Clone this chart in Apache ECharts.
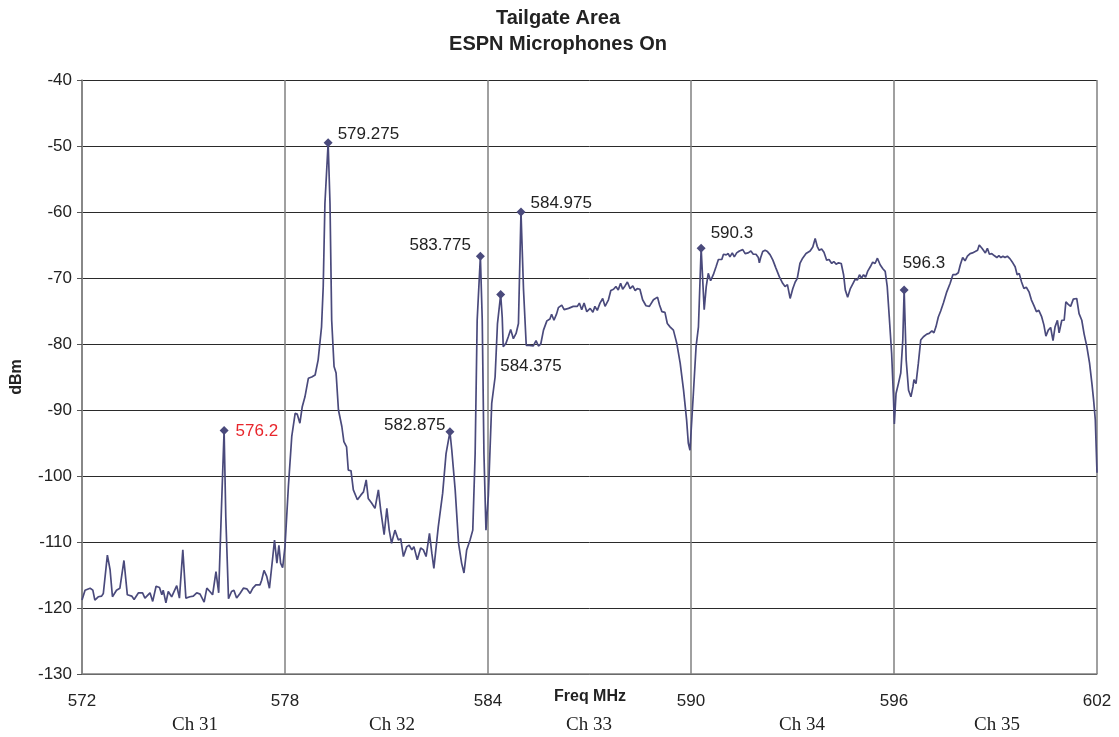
<!DOCTYPE html>
<html>
<head>
<meta charset="utf-8">
<script src="https://cdn.jsdelivr.net/npm/echarts@6/dist/echarts.min.js"></script>
<style>html,body{margin:0;padding:0;background:#fff}#chart{width:1119px;height:737px}</style>
</head>
<body>
<div id="chart"></div>
<script>
// ---- data ----
const freqMHz = [
572.00,572.09,572.24,572.32,572.38,572.48,572.58,572.63,572.75,572.83,572.90,573.02,573.12,573.24,573.34,573.47,573.54,573.67,573.79,573.86,
574.01,574.09,574.19,574.29,574.36,574.40,574.48,574.55,574.65,574.80,574.88,574.98,575.07,575.19,575.29,575.39,575.49,575.61,575.69,575.78,
575.86,575.96,576.04,576.12,576.20,576.25,576.33,576.42,576.49,576.57,576.67,576.77,576.87,576.97,577.05,577.14,577.26,577.31,577.38,577.46,
577.54,577.64,577.69,577.76,577.82,577.87,577.93,578.00,578.10,578.20,578.30,578.36,578.44,578.51,578.59,578.69,578.79,578.89,578.98,579.08,
579.13,579.18,579.275,579.33,579.38,579.45,579.51,579.58,579.68,579.74,579.82,579.87,579.95,580.02,580.14,580.24,580.32,580.40,580.46,580.56,
580.66,580.76,580.83,580.93,581.01,581.08,581.15,581.25,581.35,581.42,581.50,581.60,581.67,581.75,581.81,581.91,582.01,582.09,582.17,582.27,
582.34,582.40,582.53,582.66,582.76,582.875,582.93,583.03,583.13,583.22,583.29,583.37,583.47,583.55,583.62,583.68,583.775,583.83,583.88,583.94,
584.01,584.11,584.21,584.28,584.375,584.42,584.45,584.53,584.60,584.67,584.75,584.83,584.90,584.975,585.05,585.13,585.22,585.34,585.42,585.49,
585.56,585.64,585.74,585.83,585.88,585.95,586.03,586.08,586.18,586.25,586.38,586.52,586.64,586.70,586.77,586.84,586.92,587.02,587.10,587.16,
587.23,587.31,587.39,587.46,587.56,587.63,587.71,587.78,587.85,587.92,587.98,588.05,588.12,588.20,588.28,588.35,588.41,588.49,588.57,588.67,
588.77,588.89,589.01,589.07,589.14,589.23,589.30,589.38,589.48,589.58,589.68,589.78,589.87,589.92,589.97,590.07,590.15,590.22,590.30,590.39,
590.45,590.51,590.58,590.66,590.74,590.81,590.91,590.96,591.04,591.10,591.15,591.22,591.28,591.35,591.43,591.53,591.60,591.69,591.77,591.84,
591.92,591.99,592.02,592.06,592.12,592.19,592.26,592.34,592.42,592.51,592.61,592.71,592.78,592.85,592.93,593.01,593.08,593.14,593.22,593.30,
593.40,593.52,593.60,593.67,593.73,593.79,593.86,593.93,594.01,594.08,594.16,594.22,594.29,594.36,594.44,594.51,594.56,594.63,594.71,594.79,
594.85,594.92,594.98,595.04,595.10,595.16,595.22,595.30,595.37,595.44,595.51,595.59,595.67,595.74,595.80,595.86,595.93,595.98,596.01,596.06,
596.13,596.20,596.26,596.30,596.36,596.43,596.50,596.56,596.59,596.65,596.72,596.79,596.87,596.97,597.04,597.12,597.18,597.24,597.31,597.38,
597.46,597.56,597.66,597.74,597.82,597.90,597.96,598.03,598.10,598.17,598.25,598.32,598.40,598.47,598.52,598.60,598.65,598.70,598.76,598.82,
598.89,598.96,599.04,599.10,599.16,599.22,599.28,599.35,599.43,599.51,599.58,599.64,599.70,599.77,599.84,599.91,599.99,600.06,600.13,600.21,
600.28,600.36,600.43,600.49,600.56,600.63,600.70,600.76,600.83,600.88,600.96,601.03,601.08,601.15,601.22,601.30,601.40,601.47,601.55,601.62,
601.70,601.78,601.85,601.90,601.95,602.00
];
const levelDbm = [
-118.8,-117.3,-117.0,-117.3,-118.8,-118.3,-118.2,-117.8,-112.0,-114.2,-118.3,-117.3,-117.0,-112.8,-118.0,-118.2,-118.7,-117.7,-117.7,-118.5,
-117.7,-119.0,-116.7,-116.9,-118.0,-117.3,-119.2,-117.5,-118.3,-116.6,-118.5,-111.2,-118.5,-118.3,-118.2,-117.7,-117.9,-119.1,-117.0,-117.5,
-118.0,-114.5,-117.7,-105.2,-93.1,-106.2,-118.6,-117.5,-117.3,-118.5,-117.8,-117.0,-117.1,-117.8,-117.0,-116.5,-116.5,-115.8,-114.3,-115.2,
-117.0,-112.2,-109.7,-113.2,-110.5,-113.2,-113.9,-110.7,-101.6,-94.0,-90.5,-90.6,-92.0,-89.5,-88.0,-85.2,-85.0,-84.7,-82.4,-77.4,
-71.3,-58.7,-49.5,-58.7,-76.4,-83.4,-84.4,-90.0,-92.5,-94.8,-95.6,-99.1,-99.2,-102.1,-103.6,-102.9,-102.4,-100.6,-103.4,-104.1,
-104.9,-102.1,-105.2,-108.9,-104.9,-108.2,-110.2,-108.2,-109.7,-109.5,-112.2,-110.7,-110.5,-111.2,-110.7,-112.7,-110.9,-111.2,-112.2,-108.7,
-111.7,-114.0,-107.7,-102.6,-96.6,-93.3,-96.1,-102.1,-110.2,-113.2,-114.7,-111.2,-109.7,-108.2,-96.6,-76.4,-66.7,-76.4,-96.6,-108.2,
-103.0,-89.0,-85.0,-76.9,-72.5,-75.9,-80.4,-79.9,-78.9,-77.8,-79.2,-78.4,-76.9,-60.0,-71.8,-80.2,-80.2,-80.3,-79.5,-80.3,
-80.0,-77.9,-76.5,-76.2,-75.5,-76.4,-75.4,-74.5,-74.1,-74.8,-74.6,-74.3,-74.3,-73.8,-74.8,-73.8,-75.1,-74.6,-75.2,-74.3,
-74.9,-73.8,-73.1,-74.3,-73.3,-71.9,-71.7,-71.3,-71.8,-70.8,-71.7,-71.2,-70.6,-71.6,-71.2,-71.9,-71.6,-71.7,-73.3,-74.2,
-74.3,-73.3,-72.9,-74.1,-75.1,-75.2,-76.9,-77.4,-77.9,-79.9,-82.9,-87.0,-91.5,-95.0,-96.1,-87.5,-80.4,-77.4,-65.5,-74.8,
-71.3,-69.3,-70.4,-69.5,-68.3,-67.2,-67.2,-66.4,-66.5,-66.3,-66.8,-66.2,-66.8,-66.2,-65.9,-65.7,-66.3,-66.2,-65.9,-66.4,
-66.4,-66.9,-67.7,-66.9,-66.0,-65.8,-66.0,-66.5,-67.3,-68.5,-69.8,-70.8,-71.3,-71.0,-73.1,-71.6,-70.6,-70.1,-67.8,-67.0,
-66.3,-65.9,-65.3,-64.0,-65.2,-65.8,-65.6,-66.1,-67.3,-67.2,-67.8,-67.5,-67.9,-67.7,-67.8,-69.5,-71.8,-72.9,-71.6,-70.8,
-70.2,-70.3,-69.5,-70.0,-69.5,-69.9,-69.0,-68.3,-67.6,-67.8,-67.0,-68.0,-68.6,-69.0,-71.3,-75.9,-81.4,-87.5,-92.1,-87.5,
-86.0,-84.4,-79.4,-71.8,-82.4,-87.0,-88.0,-86.5,-85.4,-86.0,-82.9,-79.4,-78.9,-78.5,-78.4,-78.0,-78.3,-77.4,-75.9,-75.0,
-73.8,-72.1,-70.8,-69.5,-69.5,-69.2,-68.0,-66.9,-67.4,-66.7,-66.3,-66.2,-66.0,-65.8,-65.0,-65.5,-65.3,-66.2,-65.5,-66.4,
-66.3,-66.6,-66.9,-66.6,-66.9,-66.7,-66.9,-66.7,-67.1,-67.7,-68.3,-69.5,-69.3,-70.6,-71.6,-71.4,-72.1,-73.3,-74.1,-75.1,
-74.9,-75.8,-77.1,-78.8,-77.9,-77.5,-79.5,-77.4,-76.4,-78.3,-76.4,-76.4,-73.6,-74.0,-74.3,-73.2,-73.1,-75.4,-76.4,-78.5,
-80.4,-82.9,-86.0,-88.5,-91.5,-99.5
];
// marked peaks
const peakFreq = [576.2, 579.275, 583.775, 584.375, 584.975, 582.875, 590.3, 596.3];
const peakDbm  = [-93.1, -49.5, -66.7, -72.5, -60.0, -93.3, -65.5, -71.8];
// axis ticks / annotations
const yTicks = [-130,-120,-110,-100,-90,-80,-70,-60,-50,-40];
const xTicks = [572,578,584,590,596,602];
const xAxisTitle = 'Freq MHz';
const channelNames = ['Ch 31','Ch 32','Ch 33','Ch 34','Ch 35'];

// ---- styling (not data) ----
const lineColor = '#4a4a7c';
const FONT = 'Liberation Sans, Arial, sans-serif';
const peakLabelStyle = [
  {position:'right', offset:[2,1], color:'#e8262c'},
  {position:'right', offset:[0,-8]},
  {position:'left',  offset:[0,-11]},
  {position:'right', offset:[-10,72]},
  {position:'right', offset:[0,-9]},
  {position:'left',  offset:[5,-6]},
  {position:'right', offset:[0,-15]},
  {position:'right', offset:[-11,-27]}
];
const channelLabelX = [195, 392, 589, 802, 997];

const lineData = freqMHz.map((f,i)=>[f, levelDbm[i]]);
const peakData = peakFreq.map((f,i)=>({value:[f, peakDbm[i]], label: peakLabelStyle[i]}));

const chart = echarts.init(document.getElementById('chart'), null, {renderer:'canvas'});
chart.setOption({
  animation:false,
  backgroundColor:'#fff',
  title:{
    text:'Tailgate Area\nESPN Microphones On',
    left:558, top:5, textAlign:'center', padding:0,
    textStyle:{fontFamily:FONT, fontSize:20, fontWeight:'bold', color:'#222', lineHeight:26}
  },
  grid:{left:82, right:22, top:80, bottom:63, containLabel:false},
  xAxis:{
    type:'value', min:xTicks[0], max:xTicks[xTicks.length-1], interval:6,
    axisLine:{show:true, lineStyle:{color:'#808080', width:1.5}},
    axisTick:{show:false},
    axisLabel:{margin:19, fontFamily:FONT, fontSize:17, color:'#222'},
    splitLine:{show:true, lineStyle:{color:'#808080', width:1.5}}
  },
  yAxis:{
    type:'value', min:yTicks[0], max:yTicks[yTicks.length-1], interval:10,
    name:'dBm', nameLocation:'middle', nameGap:57, nameRotate:90,
    nameTextStyle:{fontFamily:FONT, fontSize:16, fontWeight:'bold', color:'#222'},
    axisLine:{show:true, lineStyle:{color:'#808080', width:1.5}},
    axisTick:{show:true, length:5, lineStyle:{color:'#555'}},
    axisLabel:{margin:10, fontFamily:FONT, fontSize:17, color:'#222'},
    splitLine:{show:true, lineStyle:{color:'#2a2a2a', width:1}}
  },
  series:[
    {
      type:'line', data:lineData, showSymbol:false, smooth:false,
      lineStyle:{color:lineColor, width:1.7}, z:3
    },
    {
      type:'scatter', data:peakData, symbol:'diamond', symbolSize:9,
      itemStyle:{color:lineColor, opacity:1}, z:4,
      label:{show:true, distance:5, fontFamily:FONT, fontSize:17, color:'#222',
        formatter:p=>String(p.value[0])}
    }
  ],
  graphic: channelNames.map((t,i)=>({
    type:'text', x:channelLabelX[i], y:725,
    style:{text:t, align:'center', verticalAlign:'middle', font:'19px "Liberation Serif", "Times New Roman", serif', fill:'#222'}
  })).concat([{
    type:'text', x:590, y:697,
    style:{text:xAxisTitle, align:'center', verticalAlign:'middle', font:'bold 16px "Liberation Sans", Arial, sans-serif', fill:'#222'}
  }])
});
</script>
</body>
</html>
